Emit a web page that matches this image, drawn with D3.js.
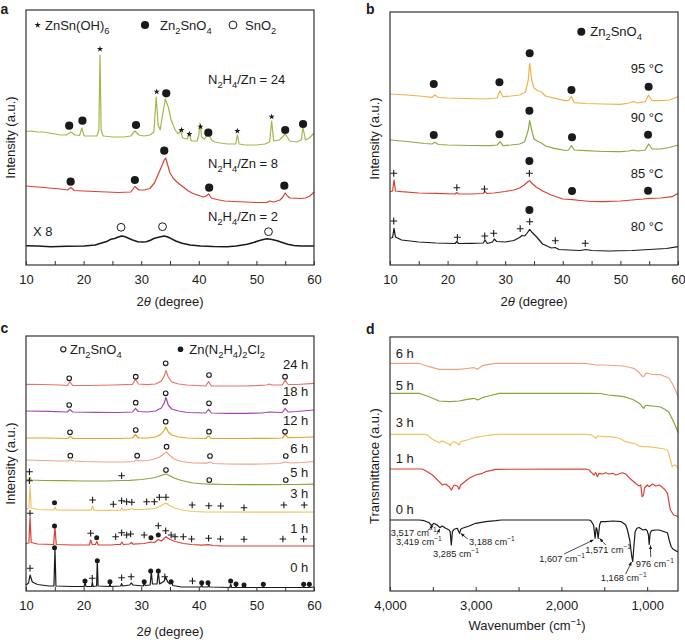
<!DOCTYPE html>
<html>
<head>
<meta charset="utf-8">
<script src="https://cdn.jsdelivr.net/npm/d3@7/dist/d3.min.js"></script>
<style>
html,body{margin:0;padding:0;background:#fff;}
svg text{font-family:"Liberation Sans",Arial,Helvetica,sans-serif;fill:#1a1a1a;}
</style>
</head>
<body>
<svg id="fig" width="685" height="640"></svg>
<script>
// ================= DATA =================
const xrdTicks = [10,15,20,25,30,35,40,45,50,55,60];
const xrdTickLabels = [10,20,30,40,50,60];
const ftirTicks = [4000,3500,3000,2500,2000,1500,1000];
const ftirTickLabels = [4000,3000,2000,1000];

// ---- panel a : XRD vs N2H4/Zn ratio (2theta, intensity a.u.)
const aRatio24 = [[10,133.5],[11,134],[12,133],[13,133],[14,132],[15,131],[16,130],[17,130],[17.8,133],[18.5,130],[19.3,129.5],[19.7,137],[20.1,129],[21,129],[22.3,129],[22.65,135],[22.85,210],[23.05,135],[23.4,129],[25,128],[27,128],[28.2,129],[28.9,134],[29.6,130],[30.5,129],[31.5,130],[32.2,133],[32.6,168],[32.95,140],[33.3,135],[33.7,150],[34.2,166],[34.7,158],[35.2,145],[35.9,135],[36.4,131],[36.8,135],[37.2,127],[38,126],[38.35,131],[38.7,124],[39.7,124],[40,130],[40.2,142],[40.5,128],[41,126],[41.65,132],[42.2,125],[42.8,123],[43.7,122],[45,121],[46.4,121],[46.7,130],[47,121],[48,120],[50,120],[51.5,121],[52.3,123],[52.65,144],[53,124],[54,125],[55,131],[55.8,124],[57,123],[57.8,125],[58.1,138],[58.5,125],[59.2,127],[60,132]];
const aRatio8 = [[10,79],[12,78],[14,77],[16,76],[17.2,75],[17.8,77.5],[18.4,74.5],[20,74],[22,73.5],[24,73],[26,72.5],[28.2,73],[28.9,78.5],[29.6,75],[30.5,75],[31.5,76.5],[32.3,82],[32.9,90],[33.5,98],[34,105],[34.25,107],[34.6,100],[35,92],[35.6,86.5],[36.2,83],[37.3,78],[38.2,74],[39,71.5],[40,69.5],[40.8,68],[41.3,69],[41.7,71],[42.2,67],[43.1,65.5],[44.5,64],[46,63.5],[48,63],[50,62.5],[51.8,62.5],[52.3,64],[53,63],[54.1,65],[54.6,68],[55,72],[55.4,69],[55.8,67],[57.6,66.5],[58.5,67],[59.3,69],[60,73]];
const aRatio2 = [[10,19.3],[12,19],[14.3,18.3],[17,18.8],[20.1,19],[22,20],[23,21.7],[24,23.5],[24.7,25.7],[25.4,26.5],[25.9,27.7],[26.6,29],[27.1,28.5],[27.6,27.3],[28.5,25],[29.4,23.3],[30.2,23],[30.9,23.3],[31.6,24.8],[32.3,26.7],[33.2,28],[34,29],[34.5,28.3],[35.1,26.7],[36,24],[37.1,21.7],[38.5,20],[40.3,19],[42.5,18.5],[44.9,18.3],[46.5,19],[48.4,20.7],[49.5,22.5],[50.4,24.3],[51.2,25.5],[51.9,26.3],[52.7,25.5],[53.6,24.3],[54.5,22.5],[55.4,20.7],[56.5,19.5],[57.7,19],[60,19]];
const aMarks = [
  [17.5,139.3,"dot"],[19.8,144.3,"dot"],[22.85,216,"star"],[29.1,140,"dot"],[32.7,173.3,"star"],[34.35,171.7,"dot"],[37.0,135,"star"],[38.35,131,"star"],[40.3,138.3,"star"],[41.65,132.3,"dot"],[46.7,134,"star"],[52.65,148.3,"star"],[55.0,135,"dot"],[58.1,141,"dot"],
  [17.75,83.3,"dot"],[28.9,85,"dot"],[34.0,114.3,"dot"],[41.8,77.3,"dot"],[54.85,79.3,"dot"],
  [26.5,37.7,"ring"],[33.7,38.3,"ring"],[52.1,33.3,"ring"]
];
const aLabels = ["N{_2}H{_4}/Zn = 24","N{_2}H{_4}/Zn = 8","N{_2}H{_4}/Zn = 2","X 8"];
const aLegend = ["ZnSn(OH){_6}","Zn{_2}SnO{_4}","SnO{_2}"];

// ---- panel b : XRD vs temperature
const b95 = [[10,171],[13,170],[16,168.5],[17.3,167.7],[17.8,170],[18.4,167.5],[20,167],[23,166.5],[26,166],[27.5,166.5],[28.6,167],[29.1,174.3],[29.6,168.3],[31,169],[32.5,170],[33.5,173],[34,185],[34.25,201.7],[34.6,185],[35,177],[35.75,174],[36.3,173],[37,169],[38.7,166.7],[40.4,164.3],[41,164.5],[41.5,168.3],[42,162.3],[44,161.5],[47,161],[50,160.7],[51.5,162],[52.2,163.3],[53,162],[54.3,163.3],[54.9,170],[55.5,164.3],[57,164.3],[58.5,165],[60,168.3]];
const b90 = [[10,125],[13,123.5],[16,121.5],[17.3,121],[17.8,122.7],[18.4,120.5],[20,120],[24,119.5],[27.5,119.3],[28.6,120],[29.1,123.3],[29.6,119.3],[31,120],[32.5,121],[33.4,123.3],[34,135],[34.25,144.3],[34.6,135],[35,126],[35.7,123.5],[36.3,122],[37,119],[38.5,116.7],[40.5,114.5],[41,115],[41.5,119.3],[42,115],[44,114.3],[47,113.5],[50,113.3],[51.5,114],[52.2,115],[53,114],[54.3,115],[54.9,121],[55.5,116],[57,116],[58.5,117.5],[60,120]];
const b85 = [[10,73.3],[10.45,74],[10.7,85],[10.95,74],[12,73.3],[15,72],[18,71.7],[21.3,71],[21.6,72.5],[21.9,71],[24,71],[26.2,71.5],[26.5,73.7],[26.8,71.5],[28,72],[30,73.5],[31.5,75],[32.5,77],[33.3,80],[34,83.5],[34.25,84.3],[34.6,82],[35.3,78.3],[36.5,74],[38,70],[40,66],[41.7,65.3],[43,64.5],[45,63.5],[47,63.3],[50,64],[52,65],[54,66],[55,66.7],[57,67],[59,68.3],[60,71.7]];
const b80 = [[10,26.7],[10.45,27.5],[10.7,36.7],[10.95,28],[12,25],[15,23],[18,22],[21.3,21.5],[21.6,23.5],[21.9,21.5],[24,21.7],[26.2,22],[26.5,25],[26.9,21.5],[27.8,23],[28.1,26],[28.5,23.5],[30,23],[31.5,24.5],[32.5,27.5],[32.9,29.5],[33.4,29],[34,33.5],[34.25,35.7],[34.6,33],[35.3,29],[36.5,21],[38,17],[38.7,17.5],[39.3,15.5],[41,15],[43,14.5],[44,15.5],[45,14.5],[48,14],[52,14.5],[55,15.5],[58,16.5],[60,18.3]];
const bMarks = [
  [17.6,181,"dot"],[29.0,182.7,"dot"],[34.25,211.7,"dot"],[41.5,175,"dot"],[54.9,178.3,"dot"],
  [17.6,130,"dot"],[29.0,130.7,"dot"],[34.2,154.3,"dot"],[41.6,127.7,"dot"],[54.8,130.3,"dot"],
  [10.65,91.7,"plus"],[21.6,77.3,"plus"],[26.4,76,"plus"],[34.2,91.7,"plus"],[34.2,104,"dot"],[41.6,74,"dot"],[54.8,74.3,"dot"],
  [10.65,44,"plus"],[21.7,27.7,"plus"],[26.45,29,"plus"],[28.0,31.7,"plus"],[32.6,36.3,"plus"],[34.25,43.3,"plus"],[34.2,55,"dot"],[38.7,24.3,"plus"],[43.9,21.7,"plus"]
];
const bLabels = ["95 °C","90 °C","85 °C","80 °C"];
const bLegend = ["Zn{_2}SnO{_4}"];

// ---- panel c : XRD vs time
const c24 = [[10,206.7],[13,206.5],[16,206],[17.2,205.5],[17.6,209.3],[18.1,205.5],[21,205.5],[25,206],[28.5,206.7],[29.0,211.7],[29.5,207],[31,206.3],[32.5,207],[33.5,210],[34,215],[34.3,220.5],[34.7,214],[35.3,209],[36.5,207],[38,206],[41.2,205],[41.7,209.3],[42.2,205],[45,205],[48,205],[50,205.3],[51.8,206],[52.2,207],[52.7,206],[54.5,206],[55,211],[55.5,206.5],[57,206.5],[60,207.7]];
const c18 = [[10,180],[14,179.7],[17.2,179],[17.6,181.5],[18.1,179],[22,178.7],[26,178.5],[28.5,179],[29,182.7],[29.5,179.5],[31,179],[32.5,180],[33.5,183],[34,188],[34.3,193.5],[34.7,186],[35.3,182],[36.5,180],[38,178.5],[41.2,178],[41.7,181.7],[42.2,178],[45,177.7],[48,177.7],[51,178],[52.2,179],[54.5,178.5],[55,182.7],[55.5,179],[57,179.5],[60,181]];
const c12 = [[10,153],[14,153],[17.2,152.5],[17.7,154.5],[18.2,152.5],[22,152.5],[26,152.5],[28.5,153],[29,156.5],[29.5,153],[31,153],[32.5,154],[33.5,157],[34,161],[34.3,164],[34.7,159],[35.3,156],[36.5,154],[38,153],[41.2,152.5],[41.7,155],[42.2,152.5],[45,152.5],[48,152.5],[52,152.7],[54.5,153],[55,156.5],[55.5,153.3],[57,153.5],[60,154]];
const c6 = [[10,131],[13,130.5],[16,130],[17.4,130],[17.8,131],[18.3,130],[20,129.5],[24,129],[27,129],[28.7,129.5],[29.2,131],[29.8,130],[31,130.5],[32,131.5],[33.2,134],[34,137.5],[34.4,139],[34.9,136],[35.7,132],[37,129.5],[39,128],[41.4,127.8],[41.9,129],[42.5,127.5],[45,127],[48,126.8],[51,127],[54,127.5],[55,129],[56,128],[58,128.5],[60,129.5]];
const c5 = [[10,111],[10.5,111.5],[10.7,113.5],[10.9,111],[13,110.5],[16,110.3],[20,110],[24,110],[26.6,110.5],[28,110.7],[30,111.5],[31.5,112.5],[32.7,114],[33.7,116],[34.3,117],[34.9,115.5],[35.7,113],[37,110.5],[39,108],[41,107],[42,106.8],[45,106.5],[48,106.3],[52,106.3],[55,106.5],[57,106.5],[60,106.8]];
const c3 = [[10,82],[10.5,82.5],[10.7,105],[10.9,83],[12,81.5],[14.8,81],[15.03,84],[15.25,81],[18,80.8],[21.3,80.8],[21.55,85],[21.8,80.8],[24,80.7],[26.4,80.8],[26.65,83],[26.9,80.8],[28.1,81.8],[28.4,82.5],[28.7,81.5],[30,81.5],[31,81.8],[32.3,82.5],[33.2,84.5],[34,87.3],[34.4,87.7],[34.9,85.5],[35.8,83],[37.5,80.5],[39,79.5],[41,79],[44,79],[48,78.8],[52,78.8],[56,78.8],[60,79]];
const c1 = [[10,47.7],[10.5,48],[10.7,73.7],[10.9,48.5],[12,47],[14.8,46.5],[15.03,64.3],[15.25,46.5],[18,46],[21,46],[21.23,51],[21.5,46.5],[22.05,46.5],[22.3,49.5],[22.55,46],[25,46],[25.5,46.5],[26.4,46.5],[26.65,49],[26.9,46.5],[28,47],[28.3,48.5],[28.6,46.8],[30.5,47.5],[31.7,49],[32.3,48.5],[32.97,51.5],[33.5,50],[34.3,54.3],[35,51.5],[35.9,49.5],[37.3,47.5],[38.8,46.5],[40.5,45.8],[41.7,46.3],[42.5,45.5],[44,45.2],[48,45],[52,45],[56,45],[60,45]];
const c0 = [[10,6],[10.45,8],[10.7,16],[11.1,9],[12,6.5],[14,5],[14.85,5],[15.03,41.7],[15.2,5],[18,4.5],[20.1,4.5],[20.24,9.3],[20.4,4.5],[21.4,4.5],[21.52,9],[21.65,4.5],[22.25,5],[22.38,31],[22.52,5],[24.45,4.5],[24.58,7.5],[24.72,4.5],[26.45,5],[26.6,7.5],[26.75,5],[28,6],[28.26,8],[28.6,6],[30.35,5],[30.52,8],[30.7,5.5],[31.55,6],[31.76,19.3],[31.95,7],[32.75,7],[32.97,19.3],[33.2,7],[34,10],[34.25,14],[34.6,9],[35.0,7],[35.2,9.5],[35.5,5.5],[37,4],[40.35,4],[40.5,6.5],[40.65,4],[41.6,4],[41.74,6.5],[41.9,4],[45.4,3.5],[45.53,7],[45.7,3.5],[46.35,3.5],[46.46,5.5],[46.6,3.5],[47.75,3.5],[47.85,5],[47.95,3.5],[51.1,3.5],[51.2,5],[51.3,3.5],[58.1,3.5],[58.2,5],[58.3,3.5],[59.1,3.5],[59.19,5],[59.3,3.5],[60,4]];
const cMarks = [
  [17.5,212.7,"ring"],[29.05,214.3,"ring"],[34.25,227.7,"ring"],[41.77,216,"ring"],[54.97,214.3,"ring"],
  [17.5,186,"ring"],[29.05,188.3,"ring"],[34.25,197.7,"ring"],[41.77,187.7,"ring"],[54.97,189.3,"ring"],
  [17.64,158.7,"ring"],[29.05,161,"ring"],[34.25,169.3,"ring"],[41.77,159.3,"ring"],[54.97,159.3,"ring"],
  [17.7,135.3,"ring"],[29.3,135.3,"ring"],[34.4,144.3,"ring"],[41.94,135,"ring"],[55.1,135,"ring"],
  [10.6,119.3,"plus"],[26.6,115.3,"plus"],[34.3,121,"ring"],[41.82,111,"ring"],[55.1,111,"ring"],
  [10.6,110.3,"plus"],[14.95,88.3,"dot"],[21.56,91,"plus"],[25.16,86.7,"plus"],[26.6,90.3,"plus"],[27.47,89.3,"plus"],[28.37,88.7,"plus"],[30.95,89.3,"plus"],[32.28,89.3,"plus"],[33.15,93.7,"plus"],[34.3,93.7,"plus"],[38.85,86,"plus"],[41.74,85.3,"plus"],[43.8,85,"plus"],[47.85,83.3,"plus"],[54.77,86,"plus"],[58.3,86,"plus"],
  [10.7,77.7,"plus"],[14.95,65,"dot"],[21.23,57.7,"plus"],[22.27,53.3,"dot"],[25.57,54.3,"plus"],[26.6,58.3,"plus"],[27.47,56,"plus"],[28.17,57,"plus"],[30.52,56,"plus"],[31.7,53.3,"dot"],[32.97,65.3,"plus"],[32.97,56,"dot"],[34.25,60.3,"plus"],[35.2,56,"plus"],[35.87,54.3,"plus"],[37.31,54.3,"plus"],[38.75,52,"plus"],[41.7,52.7,"plus"],[43.75,52,"plus"],[47.85,51.7,"plus"],[54.6,52,"plus"],[58.2,52,"plus"],
  [10.7,22.7,"plus"],[14.95,43.3,"dot"],[20.24,10,"dot"],[21.5,12.7,"plus"],[22.38,30.3,"dot"],[24.58,9.3,"dot"],[26.6,13.3,"plus"],[28.26,14.3,"plus"],[30.52,9.3,"dot"],[31.65,20,"dot"],[32.97,20,"dot"],[34.1,14.3,"plus"],[35.2,9.3,"dot"],[38.9,10,"plus"],[40.5,8.3,"dot"],[41.6,8.3,"dot"],[45.53,10,"dot"],[46.46,7,"dot"],[47.85,6,"dot"],[51.2,6.7,"dot"],[58.2,6.7,"dot"],[59.19,6.7,"dot"]
];
const cLabels = ["24 h","18 h","12 h","6 h","5 h","3 h","1 h","0 h"];
const cLegend = ["Zn{_2}SnO{_4}","Zn(N{_2}H{_4}){_2}Cl{_2}"];

// ---- panel d : FTIR (wavenumber cm-1, transmittance a.u.)
const d6 = [[4000,227.7],[3661,227.7],[3544,224.3],[3427,221.7],[3300,221.7],[3194,221.7],[3100,222.5],[3019,223.3],[2980,221.7],[2922,225.3],[2850,226.7],[2766,227.7],[1716,227.7],[1600,226],[1500,226],[1400,225.5],[1273,225],[1200,223.5],[1156,222.7],[1100,219],[1060,215],[1040,214.3],[1020,217.5],[1000,218],[940,216.5],[845,216.3],[790,214.5],[748,213],[710,208],[670,201],[640,194.3]];
const d5 = [[4000,197.7],[3661,197.7],[3544,194.3],[3427,190],[3300,189.3],[3194,190],[3100,191.7],[3019,192.7],[2980,191],[2922,193.3],[2850,195],[2727,197.7],[1677,197.7],[1545,197.5],[1450,196],[1400,195.7],[1273,194.3],[1200,192.5],[1156,191],[1080,187],[1055,184],[1040,182.7],[1020,185.5],[1000,185.7],[940,185],[845,184],[790,181.5],[748,179],[690,169],[660,163],[640,158.5]];
const d3h = [[4000,156.7],[3600,156.7],[3564,156],[3505,151.7],[3470,150.3],[3427,148.3],[3390,150.3],[3350,148.3],[3311,147],[3300,145],[3284,148.3],[3252,149.3],[3214,147.7],[3194,146],[3175,149.3],[3100,151],[3000,153.7],[2900,155],[2800,156.3],[2700,156.7],[1716,156.7],[1650,156],[1620,154.3],[1600,152.7],[1580,155],[1500,154.3],[1444,154.3],[1366,153.7],[1300,151.7],[1250,149.3],[1200,148.3],[1156,147.7],[1133,147],[1094,145],[1055,144.3],[1000,144.3],[900,143.3],[800,142],[760,140.5],[730,132],[710,124.3],[690,125.7],[666,126],[640,122.7]];
const d1 = [[4000,122],[3622,122],[3564,119.3],[3505,116],[3427,109.3],[3389,106],[3350,107],[3311,104.3],[3284,101],[3252,106],[3214,105],[3194,101.7],[3175,106],[3078,112.7],[3000,116],[2922,117.7],[2883,119.3],[2766,121.7],[1716,122],[1677,121],[1640,117.7],[1619,116],[1600,118.3],[1580,114.3],[1561,117.7],[1520,117],[1483,118.3],[1444,117],[1400,117.7],[1366,116],[1288,118.3],[1249,117],[1203,112.7],[1156,109.3],[1133,107.5],[1094,105],[1074,106],[1059,94.3],[1043,96],[1030,103],[1000,106],[977,104.3],[938,107],[900,105],[860,106],[821,103.7],[790,101],[763,97.7],[729,81],[705,78],[690,76],[666,75.5],[640,74.3]];
const d0 = [[4000,71],[3661,71],[3600,70.3],[3544,68.3],[3517,65.3],[3490,67.7],[3450,66],[3419,63.3],[3390,65],[3350,62.7],[3311,61],[3298,59.3],[3285,46],[3272,59.3],[3252,61.7],[3214,62.7],[3198,59.3],[3188,57.7],[3175,61.7],[3155,62.7],[3078,65],[3000,67.7],[2883,69.3],[2766,70.3],[2700,71],[1677,71],[1658,70.3],[1625,66],[1607,52.7],[1595,63.3],[1585,61.7],[1571,52.7],[1555,66],[1541,69.3],[1483,69.3],[1400,70],[1300,69.3],[1250,66],[1230,61],[1203,51],[1179,34.3],[1168,29.3],[1155,44.3],[1140,59.3],[1120,62.7],[1094,63.5],[1050,61],[1016,61.7],[1000,60.3],[985,56],[976,46.5],[965,57.7],[950,60.3],[900,61],[860,61],[800,59.3],[763,58.3],[740,50],[720,44.5],[700,42],[680,41],[660,40],[640,39]];
const dLabels = ["6 h","5 h","3 h","1 h","0 h"];
const dPeaks = [3517,3419,3285,3188,1607,1571,1168,976];

// ================= RENDER =================
const svg = d3.select("#fig");
const INK = "#1a1a1a";
const COL = {olive:"#a9b54c", red:"#db4133", orange:"#f2b24c", green:"#8aaa44", black:"#1a1a1a",
  salmon:"#e8736b", purple:"#a546b2", gold:"#e1a52c", peach:"#efa184", leaf:"#84a63c", yellow:"#f3c263"};

svg.append("defs").append("marker").attr("id","arr").attr("viewBox","0 0 6 6")
  .attr("refX",5.5).attr("refY",3).attr("markerWidth",5).attr("markerHeight",5).attr("orient","auto")
  .append("path").attr("d","M0,0.6L6,3L0,5.4Z").attr("fill",INK);

function rich(parent, x, y, str, fs, opts={}){
  const t = parent.append("text").attr("x",x).attr("y",y).attr("font-size",fs)
    .attr("text-anchor",opts.anchor||"start");
  if(opts.weight) t.attr("font-weight",opts.weight);
  if(opts.rotate) t.attr("transform",`rotate(${opts.rotate},${x},${y})`);
  const re=/\{([_^])([^}]*)\}/g; let last=0, m; const parts=[];
  while((m=re.exec(str))){ if(m.index>last) parts.push([str.slice(last,m.index),0]); parts.push([m[2], m[1]==="_"?1:-1]); last=re.lastIndex; }
  if(last<str.length) parts.push([str.slice(last),0]);
  let cur=0;
  parts.forEach(([s,k])=>{
    const target = k===1? fs*0.3 : (k===-1? -fs*0.42 : 0);
    const ts = t.append("tspan").text(s).attr("dy", (target-cur).toFixed(2));
    if(k!==0) ts.attr("font-size", fs*0.72);
    cur = target;
  });
  return t;
}

function makePanel(box, xDom, yDom){
  const x = d3.scaleLinear(xDom,[box.x0,box.x1]);
  const y = d3.scaleLinear(yDom,[box.y1,box.y0]);
  return {x, y, box, g: svg.append("g")};
}

function drawAxis(P, ticks, labels, fmt){
  const ax = d3.axisBottom(P.x).tickValues(ticks).tickSizeInner(-4).tickSizeOuter(0).tickPadding(9.5)
    .tickFormat(d => labels.includes(d) ? fmt(d) : "");
  const g = P.g.append("g").attr("transform",`translate(0,${P.box.y1})`).call(ax);
  g.select(".domain").remove();
  g.selectAll(".tick line").attr("stroke","#333").attr("stroke-width",1);
  g.selectAll(".tick text").attr("font-size",13).attr("fill",INK);
}

function drawFrame(P){
  const b=P.box;
  P.g.append("rect").attr("x",b.x0).attr("y",b.y0).attr("width",b.x1-b.x0).attr("height",b.y1-b.y0)
    .attr("fill","none").attr("stroke","#333").attr("stroke-width",1.2);
}

function drawSeries(P, list){
  const line = d3.line().x(d=>P.x(d[0])).y(d=>P.y(d[1]));
  P.g.selectAll(null).data(list).join("path")
    .attr("d", d=>line(d.data)).attr("fill","none").attr("stroke", d=>d.color)
    .attr("stroke-width", d=>d.w||1.2).attr("stroke-linejoin","round");
}

function mark(g, type, cx, cy, st){
  if(type==="dot") g.append("circle").attr("cx",cx).attr("cy",cy).attr("r",st.dot).attr("fill",INK);
  else if(type==="ring") g.append("circle").attr("cx",cx).attr("cy",cy).attr("r",st.ring).attr("fill","none").attr("stroke",INK).attr("stroke-width",st.ringW);
  else if(type==="star") g.append("path").attr("d",d3.symbol(d3.symbolStar, st.star)()).attr("transform",`translate(${cx},${cy})`).attr("fill",INK);
  else if(type==="plus"){ const a=st.plus; g.append("path").attr("d",`M${cx-a},${cy}H${cx+a}M${cx},${cy-a}V${cy+a}`).attr("stroke",INK).attr("stroke-width",1.1).attr("fill","none"); }
}
function drawMarks(P, list, st){
  const g=P.g.append("g");
  list.forEach(d=>mark(g, d[2], P.x(d[0]), P.y(d[1]), st));
}

function xLabel2theta(P, cx, y){
  const t = P.g.append("text").attr("x",cx).attr("y",y).attr("font-size",13).attr("text-anchor","middle");
  t.append("tspan").text("2");
  t.append("tspan").text("θ").attr("font-style","italic");
  t.append("tspan").text(" (degree)");
}

const fmtPlain = d=>String(d);
const fmtComma = d3.format(",");

// ---------- Panel a ----------
{
  const P = makePanel({x0:26,x1:314,y0:10,y1:265},[10,60],[0,255]);
  drawSeries(P,[{data:aRatio24,color:COL.olive},{data:aRatio8,color:COL.red},{data:aRatio2,color:COL.black,w:1.5}]);
  drawMarks(P,aMarks,{dot:4.1,ring:3.9,ringW:1,star:12,plus:3.4});
  drawAxis(P,xrdTicks,xrdTickLabels,fmtPlain);
  drawFrame(P);
  rich(P.g,P.x(41.6),P.y(186)+4.6,aLabels[0],13);
  rich(P.g,P.x(41.6),P.y(101.7)+4.6,aLabels[1],13);
  rich(P.g,P.x(41.6),P.y(48.3)+4.6,aLabels[2],13);
  rich(P.g,P.x(11.2),P.y(34)+4.6,aLabels[3],13);
  // legend
  mark(P.g,"star",37.7,25,{star:12});
  rich(P.g,45,29.6,aLegend[0],13);
  mark(P.g,"dot",145,25,{dot:4.1});
  rich(P.g,160,29.6,aLegend[1],13);
  mark(P.g,"ring",233,25,{ring:3.9,ringW:1});
  rich(P.g,245,29.6,aLegend[2],13);
  xLabel2theta(P,170,305.5);
  rich(P.g,10,137.5,"Intensity (a.u.)",13,{anchor:"middle",rotate:-90}).attr("dominant-baseline","central");
  rich(svg,0.5,14,"a",14,{weight:"bold"});
}

// ---------- Panel b ----------
{
  const P = makePanel({x0:390,x1:678,y0:12,y1:265},[10,60],[0,253]);
  drawSeries(P,[{data:b95,color:COL.orange},{data:b90,color:COL.green},{data:b85,color:COL.red},{data:b80,color:COL.black}]);
  drawMarks(P,bMarks,{dot:4,ring:3.9,ringW:1,star:12,plus:3.4});
  drawAxis(P,xrdTicks,xrdTickLabels,fmtPlain);
  drawFrame(P);
  const ly=[196.7,147.7,91.7,39];
  bLabels.forEach((s,i)=>rich(P.g,P.x(51.8),P.y(ly[i])+4.6,s,13));
  mark(P.g,"dot",581.3,31.7,{dot:4});
  rich(P.g,590.3,36.3,bLegend[0],13);
  xLabel2theta(P,534,305.5);
  rich(P.g,374,138.5,"Intensity (a.u.)",13,{anchor:"middle",rotate:-90}).attr("dominant-baseline","central");
  rich(svg,366,14,"b",14,{weight:"bold"});
}

// ---------- Panel c ----------
{
  const P = makePanel({x0:26,x1:314,y0:336,y1:591},[10,60],[0,255]);
  drawSeries(P,[
    {data:c24,color:COL.salmon},{data:c18,color:COL.purple},{data:c12,color:COL.gold},{data:c6,color:COL.peach},
    {data:c5,color:COL.leaf},{data:c3,color:COL.yellow},{data:c1,color:COL.red},{data:c0,color:COL.black}]);
  drawMarks(P,cMarks,{dot:2.5,ring:2.3,ringW:1.1,star:10,plus:3.3});
  drawAxis(P,xrdTicks,xrdTickLabels,fmtPlain);
  drawFrame(P);
  const ly=[227,199.3,171,142.7,118.3,97.7,62.7,23.7];
  cLabels.forEach((s,i)=>rich(P.g,P.x(59.0),P.y(ly[i])+4.6,s,13,{anchor:"end"}));
  mark(P.g,"ring",63.3,349.3,{ring:2.6,ringW:1.1});
  rich(P.g,70,353.9,cLegend[0],13);
  mark(P.g,"dot",180.5,349.3,{dot:2.8});
  rich(P.g,189.3,353.9,cLegend[1],13);
  xLabel2theta(P,170,635.5);
  rich(P.g,10,463.5,"Intensity (a.u.)",13,{anchor:"middle",rotate:-90}).attr("dominant-baseline","central");
  rich(svg,0.5,333,"c",14,{weight:"bold"});
}

// ---------- Panel d ----------
{
  const P = makePanel({x0:390,x1:678,y0:337,y1:591},[4000,640],[0,254]);
  drawSeries(P,[{data:d6,color:COL.peach},{data:d5,color:COL.leaf},{data:d3h,color:COL.yellow},{data:d1,color:COL.red},{data:d0,color:COL.black}]);
  drawAxis(P,ftirTicks,ftirTickLabels,fmtComma);
  drawFrame(P);
  const ly=[237.7,206,168.3,132.7,81.7];
  dLabels.forEach((s,i)=>rich(P.g,P.x(3933),P.y(ly[i])+4.6,s,13));
  // peak annotations: text position, arrow tail, arrow tip (data coords)
  const lay = [
    [3990,58.3, 3564,60, 3497,65.5],
    [3931,49.3, 3455,56.5, 3418,62],
    [3497,37.7, null],
    [3079,49.3, 3091,52, 3173,57.5],
    [2260,32.7, 1969,37, 1627,51],
    [1723,41.7, 1483,46, 1553,52.5],
    [1541,13.3, 1250,17, 1183,29],
    [1133,27.7, 958,34, 962,45.5]
  ];
  const ag = P.g.append("g");
  dPeaks.forEach((pk,i)=>{
    const L=lay[i];
    rich(ag,P.x(L[0]),P.y(L[1])+3.2,fmtComma(pk)+" cm{^−1}",9.3);
    if(L[2]!==null){
      ag.append("line").attr("x1",P.x(L[2])).attr("y1",P.y(L[3])).attr("x2",P.x(L[4])).attr("y2",P.y(L[5]))
        .attr("stroke",INK).attr("stroke-width",0.8).attr("marker-end","url(#arr)");
    }
  });
  rich(P.g,527,630,"Wavenumber (cm{^−1})",13,{anchor:"middle"});
  rich(P.g,374,466,"Transmittance (a.u.)",13,{anchor:"middle",rotate:-90}).attr("dominant-baseline","central");
  rich(svg,366,334,"d",14,{weight:"bold"});
}
</script>
</body>
</html>
